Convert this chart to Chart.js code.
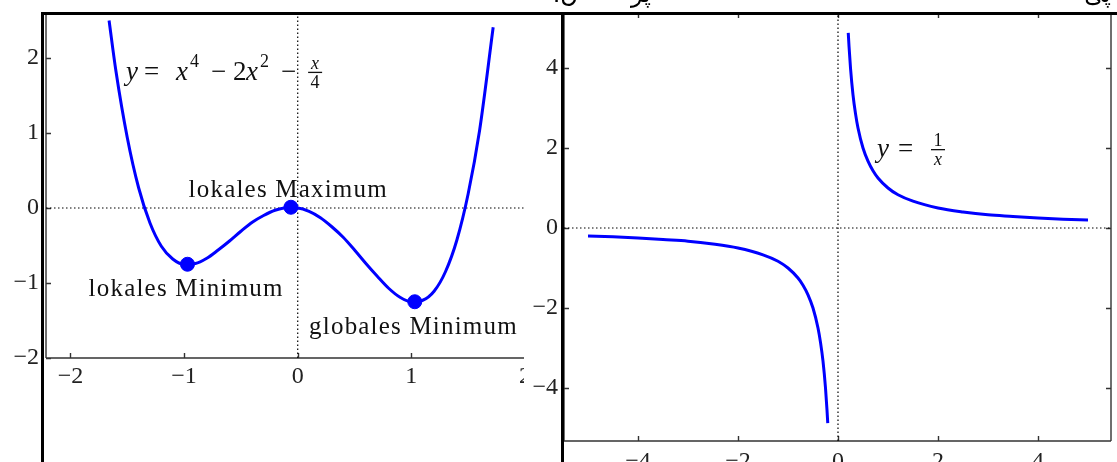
<!DOCTYPE html>
<html>
<head>
<meta charset="utf-8">
<script src="https://cdn.jsdelivr.net/npm/chart.js@4.4.1/dist/chart.umd.min.js"></script>
<style>
    html, body { margin: 0; padding: 0; background: #fff; overflow: hidden; }
    #wrap { position: relative; width: 1117px; height: 462px; overflow: hidden; background: #fff; }
    canvas { position: absolute; top: 0; }
    #leftPlot { left: 0; }
    #rightPlot { left: 524px; background: #fff; }
    .rule { position: absolute; background: #000; }
    .fa { position: absolute; top: -18px; font-family: "DejaVu Sans"; font-size: 24px; line-height: 24px; direction: rtl; white-space: nowrap; color: #000; }
</style>
</head>
<body>
<div id="wrap">
    <canvas id="leftPlot" width="560" height="462"></canvas>
    <canvas id="rightPlot" width="593" height="462"></canvas>
    <div class="rule" style="left:41px;top:12px;width:1076px;height:3px"></div>
    <div class="rule" style="left:41px;top:12px;width:3px;height:450px"></div>
    <div class="rule" style="left:561px;top:12px;width:3px;height:450px"></div>
    <div class="fa" style="right:539px">ن.</div>
    <div class="fa" style="right:466px">پر</div>
    <div class="fa" style="right:6px">پی</div>
</div>

<script>
/* =========================
   DATEN
========================= */
const leftXRange = [-2.215, 2.0];
const leftYRange = [-2.0, 2.6];
const leftXTicks = [-2, -1, 0, 1, 2];
const leftYTicks = [-2, -1, 0, 1, 2];

// y = x^4 - 2x^2 - x/4
const quarticX = [-1.66, -1.6, -1.5, -1.4, -1.3, -1.2, -1.1, -1.0, -0.9, -0.8, -0.7, -0.6, -0.5, -0.4, -0.3, -0.2, -0.1, 0.0,
                  0.1, 0.2, 0.3, 0.4, 0.5, 0.6, 0.7, 0.8, 0.9, 1.0, 1.1, 1.2, 1.3, 1.4, 1.5, 1.6, 1.72];
const quarticY = [2.50, 1.83, 0.94, 0.27, -0.20, -0.51, -0.68, -0.75, -0.74, -0.67, -0.56, -0.44, -0.31, -0.19, -0.10, -0.03, 0.005, 0.0,
                  -0.045, -0.13, -0.25, -0.39, -0.56, -0.74, -0.91, -1.07, -1.19, -1.25, -1.23, -1.11, -0.85, -0.43, 0.19, 1.03, 2.41];

const extremaX = [-0.97, -0.06, 1.03];
const extremaY = [-0.75, 0.01, -1.25];
const extremaNames = ['lokales Minimum', 'lokales Maximum', 'globales Minimum'];
const nameX = [-1.84, -0.96, 0.10];
const nameY = [-1.17, 0.15, -1.68];

const rightXRange = [-5.48, 5.46];
const rightYRange = [-5.325, 5.375];
const rightTicks = [-4, -2, 0, 2, 4];

// y = 1/x
const hypPosX = [0.205, 0.22, 0.25, 0.3, 0.35, 0.4, 0.5, 0.6, 0.7, 0.8, 1.0, 1.2, 1.5, 2.0, 2.5, 3.0, 3.5, 4.0, 4.5, 5.0];
const hypPosY = [4.88, 4.55, 4.0, 3.33, 2.86, 2.5, 2.0, 1.67, 1.43, 1.25, 1.0, 0.83, 0.67, 0.5, 0.4, 0.33, 0.29, 0.25, 0.22, 0.2];
const hypNegX = [-5.0, -4.5, -4.0, -3.5, -3.0, -2.5, -2.0, -1.5, -1.2, -1.0, -0.8, -0.7, -0.6, -0.5, -0.4, -0.35, -0.3, -0.25, -0.22, -0.205];
const hypNegY = [-0.2, -0.22, -0.25, -0.29, -0.33, -0.4, -0.5, -0.67, -0.83, -1.0, -1.25, -1.43, -1.67, -2.0, -2.5, -2.86, -3.33, -4.0, -4.55, -4.88];

// Ankerpunkte der Formeln (Datenkoordinaten)
const leftEqAt = [-1.51, 1.71];
const rightEqAt = [0.78, 1.775];

/* =========================
   HILFEN
========================= */
const BLUE = '#0000ff';
const SERIF = '"Liberation Serif", serif';
const pts = (xs, ys) => xs.map((x, i) => ({ x, y: ys[i] }));
const fmt = v => v < 0 ? '\u2212' + Math.abs(v) : String(v);

function dotted(data) {
    return {
        type: 'line', data, order: 3,
        borderColor: '#000', borderWidth: 1.2, borderDash: [1.5, 2.5],
        pointRadius: 0, fill: false
    };
}

// Rahmen + Ticks nach innen
function framePlugin(sides) {
    return {
        id: 'frame',
        beforeDatasetsDraw(chart) {
            const { ctx, chartArea: a, scales: { x, y } } = chart;
            const L = 5;
            ctx.save();
            ctx.strokeStyle = '#333';
            ctx.lineWidth = 1.4;
            ctx.beginPath();
            if (sides.includes('left')) { ctx.moveTo(a.left, a.top); ctx.lineTo(a.left, a.bottom); }
            if (sides.includes('bottom')) { ctx.moveTo(a.left, a.bottom); ctx.lineTo(a.right, a.bottom); }
            if (sides.includes('top')) { ctx.moveTo(a.left, a.top); ctx.lineTo(a.right, a.top); }
            if (sides.includes('right')) { ctx.moveTo(a.right, a.top); ctx.lineTo(a.right, a.bottom); }
            x.ticks.forEach(t => {
                const px = Math.round(x.getPixelForValue(t.value)) + 0.5;
                if (sides.includes('bottom')) { ctx.moveTo(px, a.bottom); ctx.lineTo(px, a.bottom - L); }
                if (sides.includes('top')) { ctx.moveTo(px, a.top); ctx.lineTo(px, a.top + L); }
            });
            y.ticks.forEach(t => {
                const py = Math.round(y.getPixelForValue(t.value)) + 0.5;
                if (sides.includes('left')) { ctx.moveTo(a.left, py); ctx.lineTo(a.left + L, py); }
                if (sides.includes('right')) { ctx.moveTo(a.right, py); ctx.lineTo(a.right - L, py); }
            });
            ctx.stroke();
            ctx.restore();
        }
    };
}

// kleine Formel-Setzerei
function drawEq(ctx, x0, base, items) {
    items.forEach(it => {
        ctx.font = (it.it ? 'italic ' : '') + it.s + 'px ' + SERIF;
        if (it.bar) {
            ctx.fillRect(x0 + it.dx - it.bar, base + it.dy, it.bar * 2, 1.3);
            return;
        }
        ctx.textAlign = it.c ? 'center' : 'left';
        ctx.fillText(it.t, x0 + it.dx, base + (it.dy || 0));
    });
    ctx.textAlign = 'left';
}

const leftEq = [
    { t: 'y', it: 1, s: 27, dx: 0 },
    { t: '=', s: 27, dx: 18 },
    { t: 'x', it: 1, s: 27, dx: 50 },
    { t: '4', s: 18, dx: 64, dy: -13 },
    { t: '\u2212', s: 27, dx: 85 },
    { t: '2', s: 27, dx: 107 },
    { t: 'x', it: 1, s: 27, dx: 120 },
    { t: '2', s: 18, dx: 134, dy: -13 },
    { t: '\u2212', s: 27, dx: 155 },
    { t: 'x', it: 1, s: 18, dx: 189, dy: -11, c: 1 },
    { bar: 7, dx: 189, dy: -8 },
    { t: '4', s: 18, dx: 189, dy: 8, c: 1 }
];

const rightEq = [
    { t: 'y', it: 1, s: 27, dx: 0 },
    { t: '=', s: 27, dx: 21 },
    { t: '1', s: 18, dx: 61, dy: -11, c: 1 },
    { bar: 7, dx: 61, dy: -8 },
    { t: 'x', it: 1, s: 18, dx: 61, dy: 8, c: 1 }
];

function axisX(range, ticks, height, pad) {
    return {
        type: 'linear', min: range[0], max: range[1],
        afterBuildTicks: s => { s.ticks = ticks.map(v => ({ value: v })); },
        afterFit: s => { s.height = height; s.paddingLeft = 0; s.paddingRight = 0; },
        grid: { display: false, drawTicks: false },
        border: { display: false },
        ticks: { padding: pad, color: '#222', font: { family: SERIF, size: 24 }, callback: fmt, maxRotation: 0, autoSkip: false }
    };
}

function axisY(range, ticks, width, pad) {
    return {
        type: 'linear', min: range[0], max: range[1],
        afterBuildTicks: s => { s.ticks = ticks.map(v => ({ value: v })); },
        afterFit: s => { s.width = width; s.paddingTop = 0; s.paddingBottom = 0; },
        grid: { display: false, drawTicks: false },
        border: { display: false },
        ticks: { padding: pad, color: '#222', font: { family: SERIF, size: 24 }, callback: fmt, autoSkip: false }
    };
}

const baseOpts = {
    responsive: false,
    animation: false,
    events: [],
    plugins: { legend: { display: false }, tooltip: { enabled: false } }
};

/* =========================
   LINKS: x^4 - 2x^2 - x/4
========================= */
new Chart(document.getElementById('leftPlot'), {
    type: 'line',
    data: {
        datasets: [
            {
                type: 'scatter', data: pts(extremaX, extremaY), order: 0,
                backgroundColor: BLUE, borderColor: BLUE, pointRadius: 7, showLine: false
            },
            {
                data: pts(quarticX, quarticY), order: 1,
                borderColor: BLUE, borderWidth: 3, pointRadius: 0,
                cubicInterpolationMode: 'monotone', fill: false
            },
            dotted(pts(leftXRange, [0, 0])),
            dotted(pts([0, 0], leftYRange))
        ]
    },
    options: {
        ...baseOpts,
        layout: { padding: { left: 0, right: 35, top: 13, bottom: 0 } },
        scales: {
            x: axisX(leftXRange, leftXTicks, 104, 4),
            y: axisY(leftYRange, leftYTicks, 46, 7)
        }
    },
    plugins: [
        framePlugin(['left', 'bottom']),
        {
            id: 'leftText',
            afterDraw(chart) {
                const { ctx, scales: { x, y } } = chart;
                ctx.save();
                ctx.fillStyle = '#111';
                ctx.textBaseline = 'alphabetic';
                ctx.font = '25px ' + SERIF;
                ctx.letterSpacing = '1.2px';
                extremaNames.forEach((n, i) => {
                    ctx.fillText(n, x.getPixelForValue(nameX[i]), y.getPixelForValue(nameY[i]));
                });
                ctx.letterSpacing = '0px';
                drawEq(ctx, x.getPixelForValue(leftEqAt[0]), y.getPixelForValue(leftEqAt[1]), leftEq);
                ctx.restore();
            }
        }
    ]
});

/* =========================
   RECHTS: 1/x
========================= */
new Chart(document.getElementById('rightPlot'), {
    type: 'line',
    data: {
        datasets: [
            {
                data: pts(hypPosX, hypPosY), order: 1,
                borderColor: BLUE, borderWidth: 3, pointRadius: 0,
                cubicInterpolationMode: 'monotone', fill: false
            },
            {
                data: pts(hypNegX, hypNegY), order: 1,
                borderColor: BLUE, borderWidth: 3, pointRadius: 0,
                cubicInterpolationMode: 'monotone', fill: false
            },
            dotted(pts(rightXRange, [0, 0])),
            dotted(pts([0, 0], rightYRange))
        ]
    },
    options: {
        ...baseOpts,
        layout: { padding: { left: 0, right: 6, top: 13, bottom: 0 } },
        scales: {
            x: axisX(rightXRange, rightTicks, 21, 6),
            y: axisY(rightYRange, rightTicks, 40, 6)
        }
    },
    plugins: [
        framePlugin(['left', 'bottom', 'top', 'right']),
        {
            id: 'rightText',
            afterDraw(chart) {
                const { ctx, scales: { x, y } } = chart;
                ctx.save();
                ctx.fillStyle = '#111';
                ctx.textBaseline = 'alphabetic';
                drawEq(ctx, x.getPixelForValue(rightEqAt[0]), y.getPixelForValue(rightEqAt[1]), rightEq);
                ctx.restore();
            }
        }
    ]
});
</script>
</body>
</html>
